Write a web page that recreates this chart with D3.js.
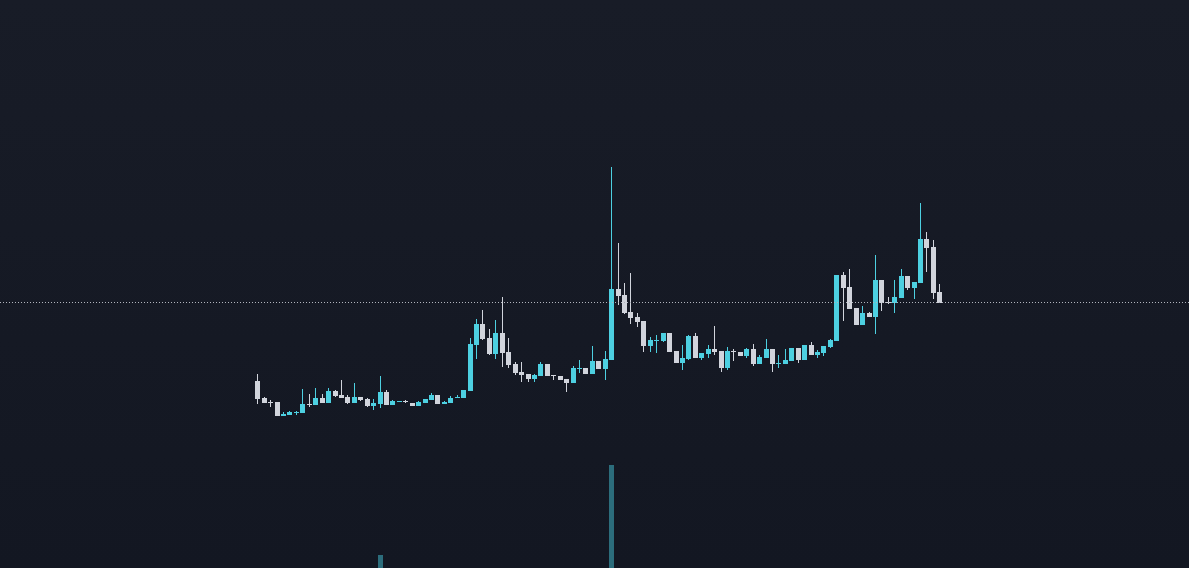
<!DOCTYPE html>
<html>
<head>
<meta charset="utf-8">
<script src="https://cdn.jsdelivr.net/npm/d3@7"></script>
<style>
  html, body { margin: 0; padding: 0; background: #131722; overflow: hidden; }
  #chart { width: 1189px; height: 568px; }
</style>
</head>
<body>
<div id="chart"></div>
<script>
// OHLC per candle
const opens = [0.690,0.520,0.480,0.480,0.340,0.353,0.373,0.370,0.463,0.453,0.520,0.470,0.590,0.550,0.530,0.470,0.530,0.510,0.443,0.463,
  0.580,0.450,0.483,0.490,0.470,0.440,0.470,0.500,0.550,0.460,0.470,0.520,0.520,0.593,1.050,1.260,1.120,0.960,1.170,0.980,
  0.860,0.780,0.760,0.710,0.740,0.860,0.750,0.740,0.710,0.670,0.810,0.820,0.760,0.890,0.810,0.900,1.610,1.550,1.380,1.330,
  1.290,1.040,1.090,1.090,1.170,0.990,0.870,0.910,1.140,0.920,0.960,1.010,0.990,0.820,0.990,0.980,0.940,1.010,0.860,0.920,
  1.010,0.860,0.860,0.890,1.020,0.900,1.050,0.950,0.970,1.030,1.090,1.750,1.630,1.420,1.250,1.370,1.330,1.700,1.480,1.470,
  1.520,1.740,1.620,1.670,2.110,2.030,1.580];
const highs = [0.760,0.530,0.500,0.480,0.380,0.393,0.393,0.610,0.560,0.620,0.560,0.620,0.600,0.700,0.550,0.670,0.530,0.520,0.510,0.740,
  0.600,0.500,0.490,0.500,0.470,0.490,0.510,0.570,0.550,0.490,0.540,0.550,0.600,1.120,1.310,1.400,1.210,1.300,1.530,1.120,
  0.880,0.880,0.760,0.760,0.880,0.860,0.750,0.740,0.710,0.840,0.900,0.820,1.040,0.890,0.990,2.830,2.070,1.670,1.770,1.370,
  1.290,1.130,1.150,1.170,1.170,0.990,1.050,1.150,1.170,0.970,1.050,1.240,0.990,1.030,1.010,0.980,1.020,1.060,0.950,1.110,
  1.010,0.950,1.010,1.020,1.020,1.050,1.080,1.000,1.040,1.110,1.750,1.780,1.810,1.420,1.440,1.380,1.950,1.700,1.530,1.700,
  1.810,1.740,1.680,2.470,2.180,2.100,1.660];
const lows = [0.460,0.470,0.430,0.340,0.340,0.347,0.353,0.370,0.433,0.453,0.470,0.470,0.530,0.523,0.460,0.470,0.493,0.430,0.403,0.423,
  0.450,0.450,0.483,0.470,0.440,0.440,0.470,0.500,0.460,0.460,0.470,0.520,0.520,0.593,0.910,1.100,0.950,0.910,0.830,0.820,
  0.750,0.680,0.680,0.680,0.740,0.740,0.700,0.700,0.580,0.670,0.770,0.760,0.760,0.810,0.700,0.900,1.450,1.360,1.260,1.230,
  0.980,0.980,0.970,1.080,0.980,0.870,0.800,0.900,0.920,0.900,0.920,0.950,0.780,0.800,0.890,0.940,0.920,0.840,0.860,0.920,
  0.780,0.820,0.860,0.890,0.870,0.900,0.950,0.920,0.940,1.020,1.090,1.290,1.410,1.250,1.250,1.330,1.160,1.390,1.460,1.370,
  1.520,1.600,1.510,1.670,1.780,1.510,1.470];
const closes = [0.510,0.470,0.473,0.340,0.360,0.380,0.383,0.460,0.453,0.520,0.470,0.590,0.543,0.523,0.473,0.530,0.503,0.440,0.470,0.580,
  0.450,0.490,0.490,0.480,0.440,0.480,0.510,0.550,0.460,0.480,0.520,0.530,0.600,1.060,1.260,1.110,0.960,1.170,0.970,0.850,
  0.770,0.750,0.710,0.750,0.860,0.740,0.740,0.700,0.670,0.820,0.820,0.760,0.890,0.810,0.910,1.610,1.540,1.370,1.320,1.280,
  1.040,1.100,1.100,1.170,0.980,0.870,0.920,1.140,0.920,0.970,1.010,0.980,0.820,0.990,0.980,0.940,1.010,0.860,0.930,1.010,
  0.860,0.870,0.900,1.020,0.900,1.050,0.950,0.980,1.040,1.100,1.750,1.620,1.410,1.250,1.370,1.330,1.700,1.470,1.470,1.530,
  1.740,1.620,1.680,2.110,2.020,1.570,1.470];
// volume: only two bars rise into view, the rest are negligible
const volumes = closes.map(() => 0);
volumes[19] = 130;
volumes[55] = 1030;

const width = 1189;
const height = 568;
const upColor = "#4dd0e1";
const downColor = "#d1d4dc";

const data = opens.map((o, i) => ({
  i: i, o: o, h: highs[i], l: lows[i], c: closes[i], v: volumes[i]
}));

const svg = d3.select("#chart")
  .append("svg")
  .attr("width", width)
  .attr("height", height);

// background gradient
const grad = svg.append("defs").append("linearGradient")
  .attr("id", "bg").attr("x1", 0).attr("y1", 0).attr("x2", 0).attr("y2", 1);
grad.append("stop").attr("offset", "0%").attr("stop-color", "#181c27");
grad.append("stop").attr("offset", "100%").attr("stop-color", "#131722");
svg.append("rect").attr("width", width).attr("height", height).attr("fill", "url(#bg)");

// scales
const x = d3.scaleLinear().domain([0, data.length - 1]).range([257.3, 939.3]);
const y = d3.scaleLinear().domain([0, 4.5]).range([450, 0]);
const yVol = d3.scaleLinear().domain([0, d3.max(volumes)]).range([height, 465]);

const bodyW = 5;

// volume histogram
svg.append("g")
  .selectAll("rect")
  .data(data.filter(d => height - yVol(d.v) >= 1))
  .enter()
  .append("rect")
  .attr("x", d => Math.round(x(d.i)) - 2)
  .attr("y", d => Math.round(yVol(d.v)))
  .attr("width", bodyW)
  .attr("height", d => height - Math.round(yVol(d.v)))
  .attr("fill", "#2c6d7c");

// candles
const candle = svg.append("g")
  .attr("shape-rendering", "crispEdges")
  .selectAll("g")
  .data(data)
  .enter()
  .append("g");

candle.append("rect")
  .attr("x", d => Math.round(x(d.i)))
  .attr("y", d => Math.round(y(d.h)))
  .attr("width", 1)
  .attr("height", d => Math.max(1, Math.round(y(d.l)) - Math.round(y(d.h))))
  .attr("fill", d => d.c >= d.o ? upColor : downColor);

candle.append("rect")
  .attr("x", d => Math.round(x(d.i)) - 2)
  .attr("y", d => Math.round(y(Math.max(d.o, d.c))))
  .attr("width", bodyW)
  .attr("height", d => Math.max(1, Math.round(y(Math.min(d.o, d.c))) - Math.round(y(Math.max(d.o, d.c)))))
  .attr("fill", d => d.c >= d.o ? upColor : downColor);

// last price line
const lastY = Math.round(y(closes[closes.length - 1])) - 0.5;
svg.append("line")
  .attr("x1", 0).attr("x2", width)
  .attr("y1", lastY).attr("y2", lastY)
  .attr("stroke", "#b2b5be")
  .attr("stroke-width", 1)
  .attr("stroke-dasharray", "1,2");
</script>
</body>
</html>
